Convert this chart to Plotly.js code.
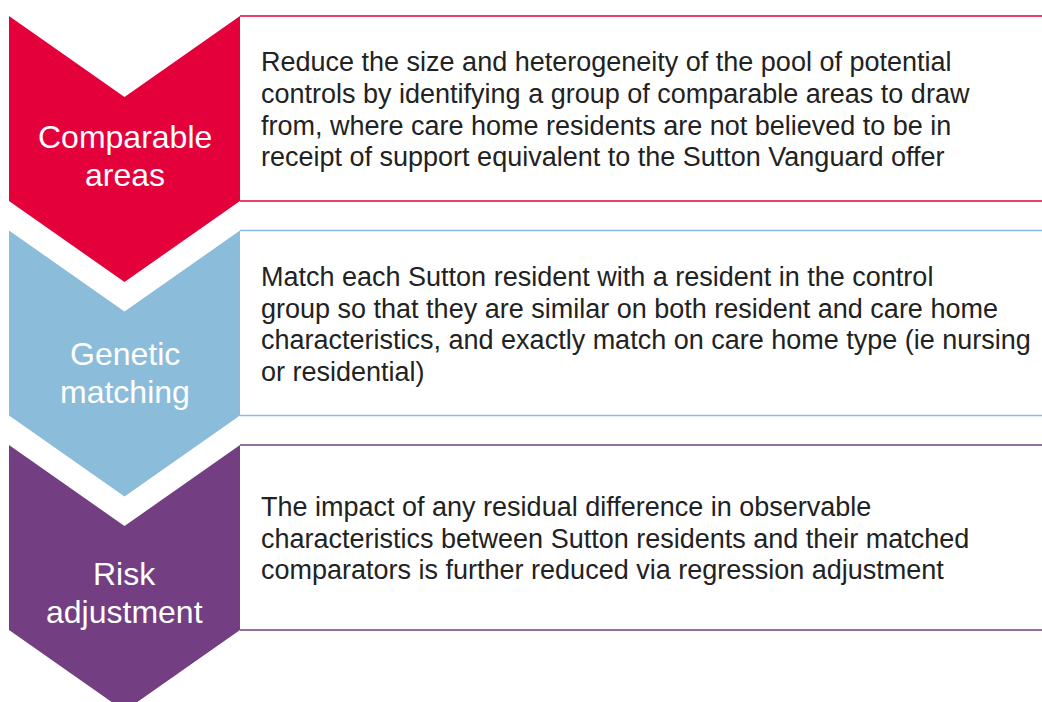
<!DOCTYPE html>
<html>
<head>
<meta charset="utf-8">
<script src="https://cdn.plot.ly/plotly-3.0.1.min.js"></script>
<style>html,body{margin:0;padding:0;background:#fff;}#chart{width:1042px;height:702px;}</style>
</head>
<body>
<div id="chart"></div>
<script>
// ---- data ----
const stepLabels = ["Comparable<br>areas", "Genetic<br>matching", "Risk<br>adjustment"];
const stepDescriptions = [
  "Reduce the size and heterogeneity of the pool of potential<br>controls by identifying a group of comparable areas to draw<br>from, where care home residents are not believed to be in<br>receipt of support equivalent to the Sutton Vanguard offer",
  "Match each Sutton resident with a resident in the control<br>group so that they are similar on both resident and care home<br>characteristics, and exactly match on care home type (ie nursing<br>or residential)",
  "The impact of any residual difference in observable<br>characteristics between Sutton residents and their matched<br>comparators is further reduced via regression adjustment"
];
const stepColors = ["#E4003B", "#8BBDDB", "#733F82"];

// ---- layout geometry (pixel-like data units) ----
const W = 1042, H = 702;
const x0 = 9, x1 = 240, xm = (x0 + x1) / 2;
const rowTops = [16, 230.5, 445];
const rowH = 185, notch = 81;
const labelBaselines = [148, 365, 585];   // first-line baseline of each label
const labelSize = 32, labelGap = 38;
const descSize = 27, descGap = 31.6;
const FONT = "Liberation Sans, Arial, sans-serif";

const shapes = [];
const annotations = [];
stepLabels.forEach((lab, i) => {
  const top = rowTops[i];
  const bot = top + rowH;
  const col = stepColors[i];
  // chevron
  shapes.push({
    type: "path", xref: "x", yref: "y",
    path: `M ${x0} ${top} L ${xm} ${top + notch} L ${x1} ${top} L ${x1} ${bot} L ${xm} ${bot + notch} L ${x0} ${bot} Z`,
    fillcolor: col, line: {width: 0}, layer: "above"
  });
  // box lines
  shapes.push({type: "line", xref: "x", yref: "y", x0: x1, x1: W, y0: top, y1: top, line: {color: col, width: 1.5}});
  shapes.push({type: "line", xref: "x", yref: "y", x0: x1, x1: W, y0: bot, y1: bot, line: {color: col, width: 1.5}});
  // label lines
  lab.split("<br>").forEach((ln, k) => {
    annotations.push({
      x: xm, y: labelBaselines[i] + k * labelGap - 0.34 * labelSize, xref: "x", yref: "y",
      text: ln, showarrow: false, xanchor: "center", yanchor: "middle", align: "center",
      font: {family: FONT, size: labelSize, color: "#ffffff"}
    });
  });
  // description lines
  const lines = stepDescriptions[i].split("<br>");
  const mid = top + rowH / 2 + 10.5;
  lines.forEach((ln, k) => {
    const base = mid + (k - (lines.length - 1) / 2) * descGap;
    annotations.push({
      x: 259, y: base - 0.34 * descSize, xref: "x", yref: "y",
      text: ln, showarrow: false, xanchor: "left", yanchor: "middle", align: "left",
      font: {family: FONT, size: descSize, color: "#222222"}
    });
  });
});

const layout = {
  width: W, height: H,
  margin: {l: 0, r: 0, t: 0, b: 0},
  paper_bgcolor: "#ffffff", plot_bgcolor: "#ffffff",
  xaxis: {range: [0, W], visible: false, fixedrange: true},
  yaxis: {range: [H, 0], visible: false, fixedrange: true},
  showlegend: false,
  shapes: shapes,
  annotations: annotations
};
Plotly.newPlot("chart", [], layout, {staticPlot: true, displayModeBar: false});
</script>
</body>
</html>
